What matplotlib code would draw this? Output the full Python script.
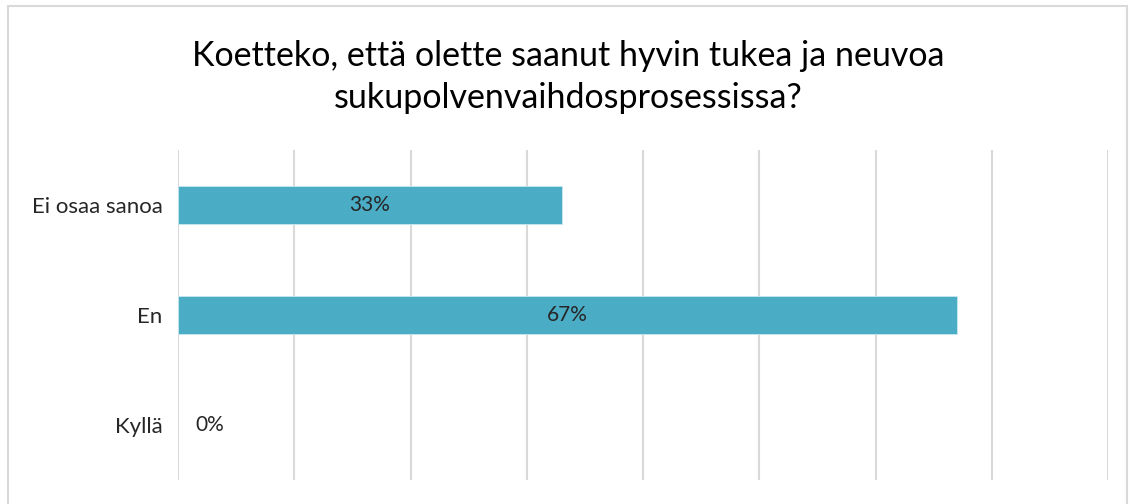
import matplotlib.pyplot as plt
from matplotlib.patches import Rectangle

categories = ["Kyllä", "En", "Ei osaa sanoa"]
values = [0.0, 0.67, 0.33]
labels = ["0%", "67%", "33%"]
title = "Koetteko, että olette saanut hyvin tukea ja neuvoa\nsukupolvenvaihdosprosessissa?"

plt.rcParams["font.family"] = ["Lato", "DejaVu Sans"]

fig = plt.figure(figsize=(11.36, 5.04), dpi=100)
ax = fig.add_axes([178 / 1136, 1 - 480 / 504, 930 / 1136, 330 / 504])

ypos = range(len(categories))
ax.barh(ypos, values, height=0.345, color="#4BACC6", edgecolor="#c9e8f0",
        linewidth=[0.6 if v > 0 else 0 for v in values], zorder=3)
for y, v, lab in zip(ypos, values, labels):
    if v > 0:
        ax.text(v / 2, y, lab, ha="center", va="center", fontsize=15, color="#262626", zorder=4)
    else:
        ax.text(0.015, y, lab, ha="left", va="center", fontsize=15, color="#262626", zorder=4)

ax.set_xlim(0, 0.8)
ax.set_ylim(-0.5, 2.5)
ax.set_xticks([i / 10 for i in range(9)])
ax.set_xticklabels([])
ax.set_yticks(list(ypos))
ax.set_yticklabels(categories, fontsize=16, color="#262626")
ax.tick_params(axis="both", length=0, pad=11)
ax.grid(axis="x", color="#D9D9D9", linewidth=1.5, zorder=0)
for s in ax.spines.values():
    s.set_visible(False)

fig.text(0.5, 1 - 77 / 504, title, ha="center", va="center", fontsize=24.5,
         color="#000000", linespacing=1.4)

fig.patches.append(Rectangle((8 / 1136, -0.02), 1119 / 1136, 1 - 6 / 504 + 0.02,
                             transform=fig.transFigure, fill=False,
                             edgecolor="#D9D9D9", linewidth=1.5))

fig.savefig("out.png", dpi=100)
